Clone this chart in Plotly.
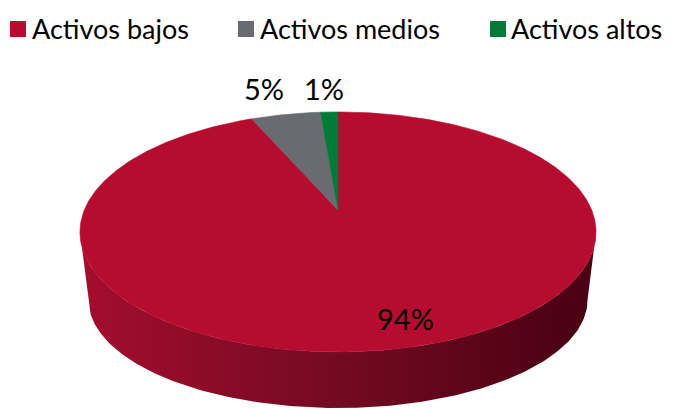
import numpy as np
import plotly.graph_objects as go

# ---- data ----
categories = ["Activos bajos", "Activos medios", "Activos altos"]
values = [93.5, 5.2, 1.3]
label_texts = ["94%", "5%", "1%"]
colors = ["#b60c2f", "#696b70", "#007a37"]

# ---- page geometry (the page body has an 8px margin) ----
OFF = 8
W, H = 676, 410

# ---- projection (pixel-like coordinate system) ----
CX = 338.0
K = 0.183
TOP = dict(A=253.7, B=116.0, Y0=210.0)
BOT = dict(A=245.3, B=104.4, Y0=280.2)


def proj(theta_deg, r=1.0, p=TOP):
    t = np.radians(theta_deg)
    u = r * np.sin(t)
    v = r * np.cos(t)
    w = 1 + K * v
    return CX + p["A"] * u / w, p["Y0"] - p["B"] * v / w


fig = go.Figure()

# side band (front visible half)
th_ext = np.degrees(np.arccos(-K))
arc = np.linspace(th_ext, 360 - th_ext, 200)
xt, yt = proj(arc, p=TOP)
xb, yb = proj(arc[::-1], p=BOT)
fig.add_trace(go.Scatter(
    x=np.concatenate([xt, xb]), y=np.concatenate([yt, yb]),
    fill="toself", mode="lines", line=dict(width=0),
    fillgradient=dict(type="horizontal",
                      colorscale=[[0, "#a40d2e"], [0.5, "#730a21"], [1, "#480012"]]),
    hoverinfo="skip", showlegend=False))

# top face wedges
total = sum(values)
start = 0.0
for cat, val, col in zip(categories, values, colors):
    span = 360.0 * val / total
    angs = np.linspace(start, start + span, max(int(span * 2), 4))
    ax, ay = proj(angs, p=TOP)
    x = np.concatenate([[CX], ax, [CX]])
    y = np.concatenate([[TOP["Y0"]], ay, [TOP["Y0"]]])
    fig.add_trace(go.Scatter(x=x, y=y, fill="toself", mode="lines",
                             line=dict(width=0.6, color=col), fillcolor=col,
                             name=cat, hoverinfo="name", showlegend=False))
    start += span

# legend (drawn as markers + text so it sits exactly where the original does)
legend_marker_x = [18, 246, 498]
legend_text_x = [31, 259, 510]
LEG_Y = 29
fig.add_trace(go.Scatter(x=legend_marker_x, y=[LEG_Y] * 3, mode="markers",
                         marker=dict(symbol="square", size=16, color=colors,
                                     line=dict(width=0)),
                         text=categories, hoverinfo="text", showlegend=False))
for cat, tx in zip(categories, legend_text_x):
    fig.add_annotation(x=tx, y=LEG_Y - 1, text=cat, showarrow=False,
                       xanchor="left", yanchor="middle", borderpad=0,
                       font=dict(family="Lato", size=27, color="#000000"))

# slice labels
label_pos = [(405, 318), (264, 88), (324, 88)]
for txt, (lx, ly) in zip(label_texts, label_pos):
    fig.add_annotation(x=lx, y=ly, text=txt, showarrow=False,
                       font=dict(family="Lato", size=29, color="#000000"))

fw, fh = W - OFF, H - OFF
fig.update_layout(
    width=fw, height=fh,
    margin=dict(l=0, r=0, t=0, b=0),
    paper_bgcolor="white", plot_bgcolor="white",
    xaxis=dict(range=[OFF, W], visible=False, fixedrange=True),
    yaxis=dict(range=[H, OFF], visible=False, fixedrange=True),
    showlegend=False,
    font=dict(family="Lato"),
)

fig.write_html("out.html")
